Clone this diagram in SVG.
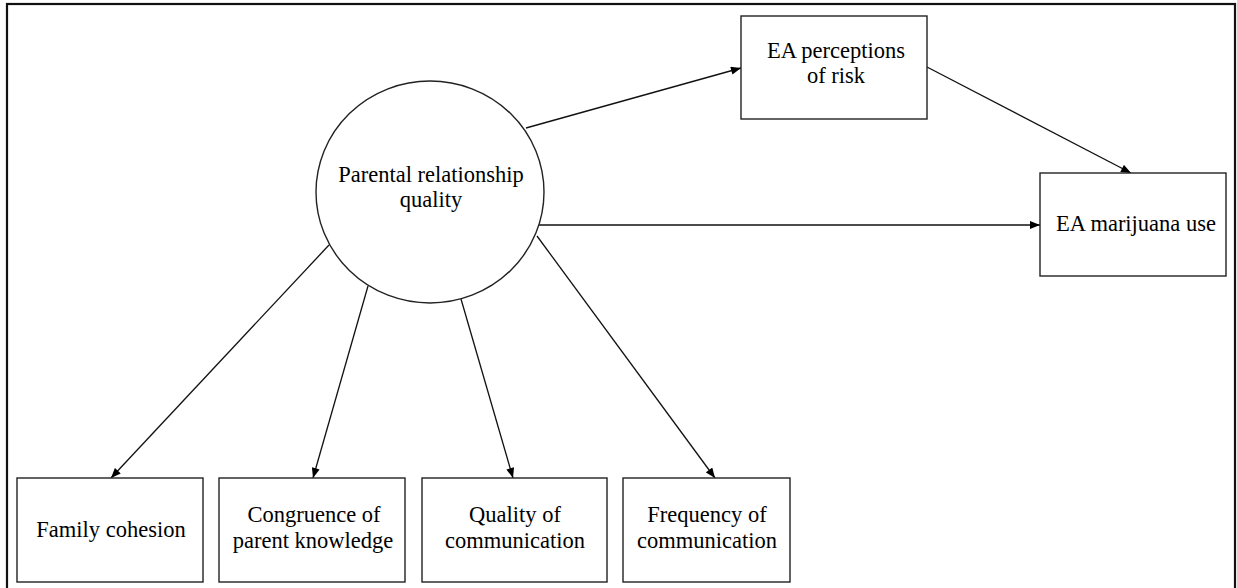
<svg xmlns="http://www.w3.org/2000/svg" width="1237" height="588" viewBox="0 0 1237 588">
<defs>
<marker id="ah" viewBox="0 0 10 8" refX="10" refY="4" markerWidth="11" markerHeight="8" markerUnits="userSpaceOnUse" orient="auto">
<path d="M0,0 L10,4 L0,8 Z" fill="#000"/>
</marker>
<style>
.box{fill:#fff;stroke:#222;stroke-width:1.4}
.lbl{font-family:"Liberation Serif","Times New Roman",serif;font-size:22.5px;fill:#000;text-anchor:middle}
.con{stroke:#111;stroke-width:1.3;fill:none;marker-end:url(#ah)}
</style>
</defs>
<rect x="0" y="0" width="1237" height="588" fill="#fff"/>
<rect x="7" y="4" width="1228" height="620" fill="none" stroke="#111" stroke-width="2.2"/>
<g id="connectors">
<line class="con" x1="526" y1="128" x2="741" y2="68"/>
<line class="con" x1="927" y1="67" x2="1131" y2="173"/>
<line class="con" x1="539" y1="225" x2="1040" y2="225"/>
<line class="con" x1="329" y1="245" x2="111" y2="478"/>
<line class="con" x1="368" y1="286" x2="313" y2="478"/>
<line class="con" x1="461" y1="299" x2="513" y2="478"/>
<line class="con" x1="537" y1="236" x2="715" y2="478"/>
</g>
<g id="parental">
<ellipse cx="430" cy="192" rx="114" ry="111" fill="#fff" stroke="#222" stroke-width="1.4"/>
<text class="lbl" x="431" y="182">Parental relationship</text>
<text class="lbl" x="431" y="207">quality</text>
</g>
<g id="risk">
<rect class="box" x="741" y="16" width="186" height="103"/>
<text class="lbl" x="836" y="58">EA perceptions</text>
<text class="lbl" x="836" y="83">of risk</text>
</g>
<g id="marijuana">
<rect class="box" x="1040" y="173" width="186" height="103"/>
<text class="lbl" x="1136" y="231">EA marijuana use</text>
</g>
<g id="cohesion">
<rect class="box" x="17" y="478" width="186" height="104"/>
<text class="lbl" x="111" y="537">Family cohesion</text>
</g>
<g id="congruence">
<rect class="box" x="219" y="478" width="186" height="104"/>
<text class="lbl" x="314" y="522">Congruence of</text>
<text class="lbl" x="313" y="548">parent knowledge</text>
</g>
<g id="quality">
<rect class="box" x="422" y="478" width="185" height="104"/>
<text class="lbl" x="515" y="522">Quality of</text>
<text class="lbl" x="515" y="548">communication</text>
</g>
<g id="frequency">
<rect class="box" x="623" y="478" width="167" height="104"/>
<text class="lbl" x="707" y="522">Frequency of</text>
<text class="lbl" x="707" y="548">communication</text>
</g>
</svg>
